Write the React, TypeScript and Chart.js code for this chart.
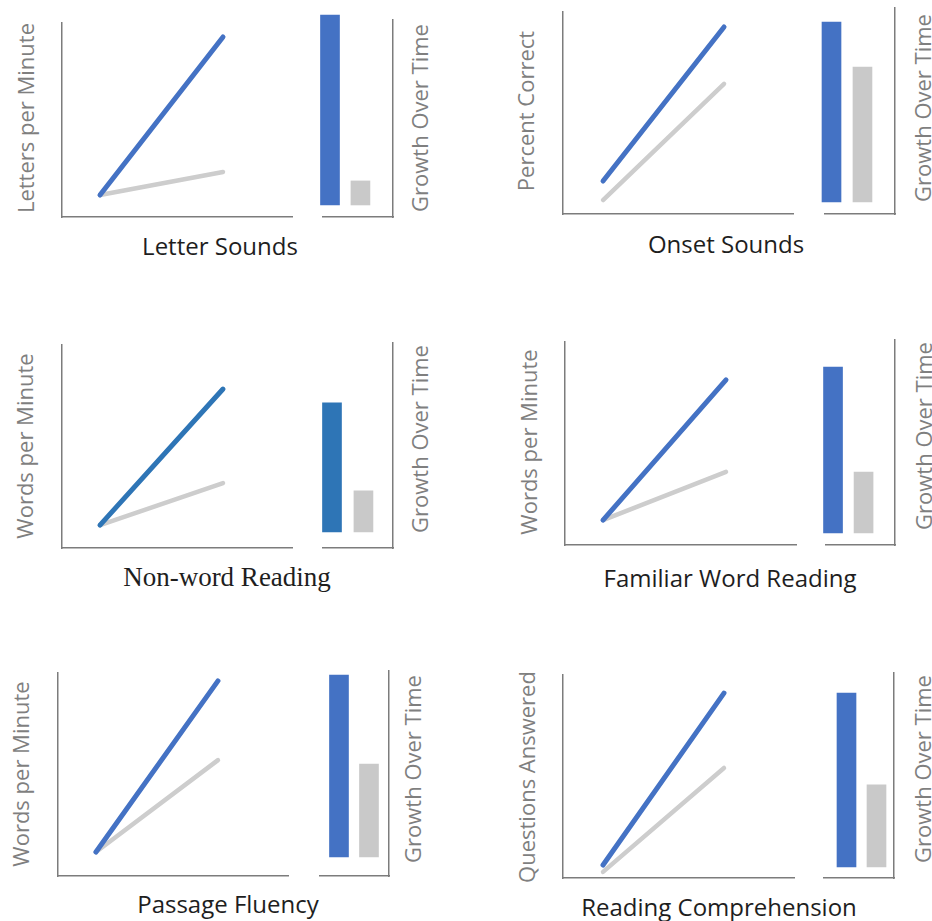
import React, { useEffect, useRef } from 'react';
import { Chart, registerables } from 'chart.js';

Chart.register(...registerables);

// ---------- data ----------
const timePoints = [0, 1];
const groups = ['Target', 'Comparison'];
const barTitle = 'Growth Over Time';

const panelTitles = [
  'Letter Sounds',
  'Onset Sounds',
  'Non-word Reading',
  'Familiar Word Reading',
  'Passage Fluency',
  'Reading Comprehension',
];
const yTitles = [
  'Letters per Minute',
  'Percent Correct',
  'Words per Minute',
  'Words per Minute',
  'Words per Minute',
  'Questions Answered',
];

const letterSoundsTarget = [11.3, 92.8];
const letterSoundsComparison = [11.3, 23.2];
const letterSoundsGrowth = [102.7, 13.0];

const onsetSoundsTarget = [16.3, 92.6];
const onsetSoundsComparison = [6.9, 64.4];
const onsetSoundsGrowth = [92.8, 69.6];

const nonWordTarget = [11.3, 78.3];
const nonWordComparison = [11.3, 32.0];
const nonWordGrowth = [68.3, 21.7];

const familiarWordTarget = [12.3, 81.3];
const familiarWordComparison = [12.3, 36.0];
const familiarWordGrowth = [86.0, 31.6];

const passageFluencyTarget = [11.8, 96.1];
const passageFluencyComparison = [11.8, 57.1];
const passageFluencyGrowth = [97.8, 50.0];

const comprehensionTarget = [6.4, 91.1];
const comprehensionComparison = [3.0, 54.2];
const comprehensionGrowth = [89.7, 42.3];

const targetSeries = [
  letterSoundsTarget,
  onsetSoundsTarget,
  nonWordTarget,
  familiarWordTarget,
  passageFluencyTarget,
  comprehensionTarget,
];
const comparisonSeries = [
  letterSoundsComparison,
  onsetSoundsComparison,
  nonWordComparison,
  familiarWordComparison,
  passageFluencyComparison,
  comprehensionComparison,
];
const growthSeries = [
  letterSoundsGrowth,
  onsetSoundsGrowth,
  nonWordGrowth,
  familiarWordGrowth,
  passageFluencyGrowth,
  comprehensionGrowth,
];

// ---------- layout / style ----------
const BLUE = '#4472C4';
const BLUE2 = '#2E75B6';
const GRAY_LINE = '#CDCDCD';
const GRAY_BAR = '#C9C9C9';
const AXIS = '#7c7c7c';
const PAD = { top: 12, right: 8, bottom: 8, left: 8 };

type Box = [number, number, number, number];
type Layout = {
  line: Box;
  bar: Box;
  lineX: [number, number];
  barX: [number, number];
  barMin: number;
  yTitle: [number, number];
  gTitle: [number, number];
  xTitle: [number, number];
  accent: string;
  serif?: boolean;
};

const layouts: Layout[] = [
  { line: [62, 23, 292, 217], bar: [323, 20, 393, 217], lineX: [-0.309, 1.561], barX: [-0.23, 2.07], barMin: -6.5,
    yTitle: [25, 118], gTitle: [419, 118], xTitle: [220, 245], accent: BLUE },
  { line: [563, 12, 793, 214], bar: [825, 8, 895, 214], lineX: [-0.331, 1.57], barX: [-0.21, 2.05], barMin: -6.2,
    yTitle: [525, 111], gTitle: [922, 108], xTitle: [726, 243], accent: BLUE },
  { line: [62, 345, 292, 548], bar: [323, 343, 393, 548], lineX: [-0.309, 1.561], barX: [-0.286, 1.94], barMin: -8.5,
    yTitle: [24, 446], gTitle: [419, 439], xTitle: [227, 577], accent: BLUE2, serif: true },
  { line: [565, 342, 796, 545], bar: [826, 340, 895, 545], lineX: [-0.309, 1.569], barX: [-0.23, 2.03], barMin: -6.2,
    yTitle: [528, 442], gTitle: [923, 436], xTitle: [730, 577], accent: BLUE },
  { line: [58, 673, 288, 876], bar: [320, 671, 389, 876], lineX: [-0.311, 1.574], barX: [-0.633, 1.667], barMin: -10.2,
    yTitle: [20, 774], gTitle: [412, 769], xTitle: [228, 903], accent: BLUE },
  { line: [563, 675, 794, 878], bar: [824, 673, 894, 878], lineX: [-0.331, 1.579], barX: [-0.75, 1.583], barMin: -5.7,
    yTitle: [526, 777], gTitle: [922, 769], xTitle: [719, 906], accent: BLUE },
];

const hiddenScale = {
  display: true,
  grid: { display: false, drawTicks: false },
  ticks: { display: false },
  border: { display: true, color: AXIS, width: 1.5 },
};

function canvasBox(b: Box) {
  const [l, t, r, bt] = b;
  return {
    left: l - PAD.left,
    top: t - PAD.top,
    width: r - l + PAD.left + PAD.right,
    height: bt - t + PAD.top + PAD.bottom,
  };
}

function Panel({ i }: { i: number }) {
  const lineRef = useRef<HTMLCanvasElement>(null);
  const barRef = useRef<HTMLCanvasElement>(null);
  const L = layouts[i];

  useEffect(() => {
    const toPts = (arr: number[]) => arr.map((v, k) => ({ x: timePoints[k], y: v }));
    const lineChart = new Chart(lineRef.current!, {
      type: 'line',
      data: {
        datasets: [
          {
            label: groups[0],
            data: toPts(targetSeries[i]),
            borderColor: L.accent,
            borderWidth: 5,
            borderCapStyle: 'round',
            pointRadius: 0,
            tension: 0,
          },
          {
            label: groups[1],
            data: toPts(comparisonSeries[i]),
            borderColor: GRAY_LINE,
            borderWidth: 4.5,
            borderCapStyle: 'round',
            pointRadius: 0,
            tension: 0,
          },
        ],
      },
      options: {
        animation: false,
        responsive: false,
        maintainAspectRatio: false,
        events: [],
        layout: { padding: PAD },
        plugins: { legend: { display: false }, tooltip: { enabled: false } },
        scales: {
          x: { ...hiddenScale, type: 'linear', min: L.lineX[0], max: L.lineX[1] },
          y: { ...hiddenScale, type: 'linear', position: 'left', min: 0, max: 100 },
        },
      } as any,
    });

    const barChart = new Chart(barRef.current!, {
      type: 'bar',
      data: {
        datasets: [
          {
            label: barTitle,
            data: growthSeries[i].map((v, k) => ({ x: k, y: v })),
            backgroundColor: [L.accent, GRAY_BAR],
            barThickness: 19,
            borderWidth: 0,
            clip: false,
          } as any,
        ],
      },
      options: {
        animation: false,
        responsive: false,
        maintainAspectRatio: false,
        events: [],
        layout: { padding: PAD },
        plugins: { legend: { display: false }, tooltip: { enabled: false } },
        scales: {
          x: { ...hiddenScale, type: 'linear', offset: false, min: L.barX[0], max: L.barX[1] },
          y: { ...hiddenScale, type: 'linear', position: 'right', min: L.barMin, max: 100 },
        },
      } as any,
    });

    return () => {
      lineChart.destroy();
      barChart.destroy();
    };
  }, [i]);

  const lb = canvasBox(L.line);
  const bb = canvasBox(L.bar);
  const rot: React.CSSProperties = {
    position: 'absolute',
    transform: 'translate(-50%, -50%) rotate(-90deg)',
    whiteSpace: 'nowrap',
    font: '22px "Open Sans"',
    lineHeight: 1,
    color: '#7f7f7f',
  };

  return (
    <>
      <canvas ref={lineRef} width={lb.width} height={lb.height}
        style={{ position: 'absolute', left: lb.left, top: lb.top, width: lb.width, height: lb.height }} />
      <canvas ref={barRef} width={bb.width} height={bb.height}
        style={{ position: 'absolute', left: bb.left, top: bb.top, width: bb.width, height: bb.height }} />
      <div style={{ ...rot, left: L.yTitle[0], top: L.yTitle[1] }}>{yTitles[i]}</div>
      <div style={{ ...rot, left: L.gTitle[0], top: L.gTitle[1] }}>{barTitle}</div>
      <div
        style={{
          position: 'absolute',
          left: L.xTitle[0],
          top: L.xTitle[1],
          transform: 'translate(-50%, -50%)',
          whiteSpace: 'nowrap',
          lineHeight: 1,
          color: '#1e1e1e',
          font: L.serif ? '27px "Liberation Serif"' : '24px "Open Sans"',
        }}
      >
        {panelTitles[i]}
      </div>
    </>
  );
}

export default function App() {
  return (
    <div
      style={{
        position: 'absolute',
        left: 0,
        top: 0,
        width: 932,
        height: 921,
        overflow: 'hidden',
        background: '#ffffff',
      }}
    >
      {layouts.map((_, i) => (
        <Panel key={i} i={i} />
      ))}
    </div>
  );
}
